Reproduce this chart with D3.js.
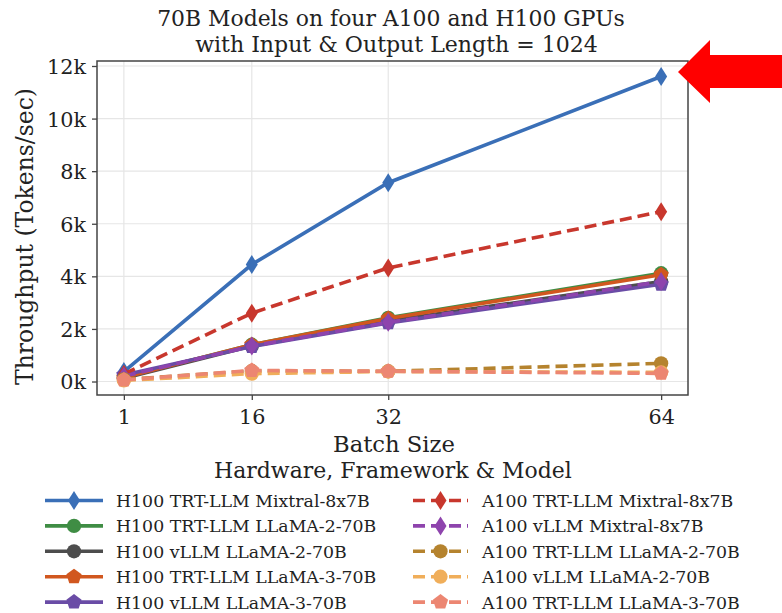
<!DOCTYPE html>
<html><head><meta charset="utf-8">
<script src="https://cdn.jsdelivr.net/npm/d3@7"></script>
<style>body{margin:0;background:#fff}svg{display:block}svg text{font-family:"DejaVu Serif",serif !important;fill:#222}</style>
</head><body>
<svg id="c" width="782" height="613"></svg>
<script>
const batchSizes = [1, 16, 32, 64];
const yTicks = [0, 2000, 4000, 6000, 8000, 10000, 12000];
const yTickLabels = ["0k","2k","4k","6k","8k","10k","12k"];
const seriesNames = [
  "H100 TRT-LLM Mixtral-8x7B","H100 TRT-LLM LLaMA-2-70B","H100 vLLM LLaMA-2-70B",
  "H100 TRT-LLM LLaMA-3-70B","H100 vLLM LLaMA-3-70B","A100 TRT-LLM Mixtral-8x7B",
  "A100 vLLM Mixtral-8x7B","A100 TRT-LLM LLaMA-2-70B","A100 vLLM LLaMA-2-70B","A100 TRT-LLM LLaMA-3-70B"];
const h100TrtMixtral = [380, 4450, 7560, 11600];
const h100TrtLlama2 = [150, 1400, 2420, 4120];
const h100VllmLlama2 = [120, 1350, 2300, 3800];
const h100TrtLlama3 = [150, 1400, 2400, 4060];
const h100VllmLlama3 = [250, 1330, 2230, 3700];
const a100TrtMixtral = [280, 2600, 4320, 6460];
const a100VllmMixtral = [200, 1350, 2250, 3800];
const a100TrtLlama2 = [80, 400, 390, 690];
const a100VllmLlama2 = [40, 300, 380, 350];
const a100TrtLlama3 = [60, 420, 390, 310];
const seriesValues = [h100TrtMixtral,h100TrtLlama2,h100VllmLlama2,h100TrtLlama3,h100VllmLlama3,
  a100TrtMixtral,a100VllmMixtral,a100TrtLlama2,a100VllmLlama2,a100TrtLlama3];
const colors = ["#3a6fb7","#3f8d44","#4d4d4d","#d1571f","#6a4ca6","#c8372d","#8e44ad","#b5832e","#f0ae5a","#ec8672"];
const markers = ["diamond","circle","circle","pentagon","pentagon","diamond","diamond","circle","circle","pentagon"];
const dashed = [false,false,false,false,false,true,true,true,true,true];

const svg = d3.select("#c");
const L=97, R=688, T=61, B=395;
const x = d3.scaleLinear().domain([-2.15, 67.15]).range([L, R]);
const y = d3.scaleLinear().domain([-513, 12190]).range([B, T]);

function fit(sel, target){
  const node = sel.node();
  const fs = parseFloat(sel.attr("font-size"));
  const w = node.getComputedTextLength();
  const nf = fs*target/w;
  sel.attr("font-size", nf);
  return nf;
}

function markerPath(type){
  if(type==="diamond") return "M0,-9.5L6,0L0,9.5L-6,0Z";
  if(type==="circle") return d3.symbol(d3.symbolCircle, 160)();
  const r=8; let p=[];
  for(let i=0;i<5;i++){const a=-Math.PI/2+i*2*Math.PI/5;p.push([r*Math.cos(a),r*Math.sin(a)]);}
  return "M"+p.map(q=>q.join(",")).join("L")+"Z";
}

// grid
const g = svg.append("g");
g.selectAll(".gy").data(yTicks).join("line").attr("x1",L).attr("x2",R)
  .attr("y1",d=>y(d)).attr("y2",d=>y(d)).attr("stroke","#e6e6e6").attr("stroke-width",1.2);
g.selectAll(".gx").data(batchSizes).join("line").attr("y1",T).attr("y2",B)
  .attr("x1",d=>x(d)).attr("x2",d=>x(d)).attr("stroke","#e6e6e6").attr("stroke-width",1.2);

// axes
const yAxis = d3.axisLeft(y).tickValues(yTicks).tickFormat((d,i)=>yTickLabels[i]).tickSize(5).tickPadding(6);
const xAxis = d3.axisBottom(x).tickValues(batchSizes).tickFormat(d3.format("d")).tickSize(5).tickPadding(6);
const ya = svg.append("g").attr("transform",`translate(${L},0)`).call(yAxis);
const xa = svg.append("g").attr("transform",`translate(0,${B})`).call(xAxis);
[ya,xa].forEach(a=>{a.attr("font-family",null);a.select(".domain").remove();a.selectAll("line").attr("stroke","#444").attr("stroke-width",1.3);
  a.selectAll("text").attr("font-size",20).attr("fill","#222");});
const tickFs = fit(ya.selectAll("text").filter((d,i)=>i===6), 39);
ya.selectAll("text").attr("font-size",tickFs).attr("dy","0.36em");
xa.selectAll("text").attr("font-size",tickFs).attr("dy","0.85em");

// lines
const line = d3.line().x((d,i)=>x(batchSizes[i])).y(d=>y(d));
seriesValues.forEach((vals,k)=>{
  const sg = svg.append("g");
  sg.append("path").datum(vals).attr("d",line).attr("fill","none").attr("stroke",colors[k])
    .attr("stroke-width",3.6).attr("stroke-dasharray",dashed[k]?"12,6":null);
  sg.selectAll("path.m").data(vals).join("path").attr("class","m").attr("d",markerPath(markers[k]))
    .attr("transform",(d,i)=>`translate(${x(batchSizes[i])},${y(d)})`).attr("fill",colors[k]);
});

// frame
svg.append("rect").attr("x",L).attr("y",T).attr("width",R-L).attr("height",B-T)
  .attr("fill","none").attr("stroke","#444").attr("stroke-width",1.5);

// titles
fit(svg.append("text").attr("x",391).attr("y",26).attr("text-anchor","middle").attr("font-size",20)
  .text("70B Models on four A100 and H100 GPUs"), 468);
fit(svg.append("text").attr("x",396.5).attr("y",52).attr("text-anchor","middle").attr("font-size",20)
  .text("with Input & Output Length = 1024"), 403);
fit(svg.append("text").attr("transform",`translate(33,236.5) rotate(-90)`).attr("text-anchor","middle")
  .attr("font-size",20).text("Throughput (Tokens/sec)"), 297);
fit(svg.append("text").attr("x",394).attr("y",452).attr("text-anchor","middle").attr("font-size",20).text("Batch Size"), 122);
fit(svg.append("text").attr("x",393).attr("y",478).attr("text-anchor","middle").attr("font-size",20).text("Hardware, Framework & Model"), 358);

// legend
const rowY = k => 500.5 + (k%5)*25.4;
let legFs = null;
seriesNames.forEach((name,k)=>{
  const col = k<5?0:1;
  const x0 = col?413:45, x1 = col?468:103, xm=(x0+x1)/2, xt = col?482:116;
  const lg = svg.append("g");
  lg.append("line").attr("x1",x0).attr("x2",x1).attr("y1",rowY(k)).attr("y2",rowY(k)).attr("stroke",colors[k])
    .attr("stroke-width",3.6).attr("stroke-dasharray",dashed[k]?"12,6":null);
  lg.append("path").attr("d",markerPath(markers[k])).attr("transform",`translate(${xm},${rowY(k)})`).attr("fill",colors[k]);
  const t = lg.append("text").attr("x",xt).attr("y",rowY(k)+6.5).attr("font-size",18).text(name);
  if(k===0) legFs = fit(t, 254); else t.attr("font-size", legFs);
});

// red arrow annotation
svg.append("path").attr("d","M678,72L710,40L710,55L782,55L782,88L710,88L710,103Z").attr("fill","#ff0000");
</script>
</body></html>
